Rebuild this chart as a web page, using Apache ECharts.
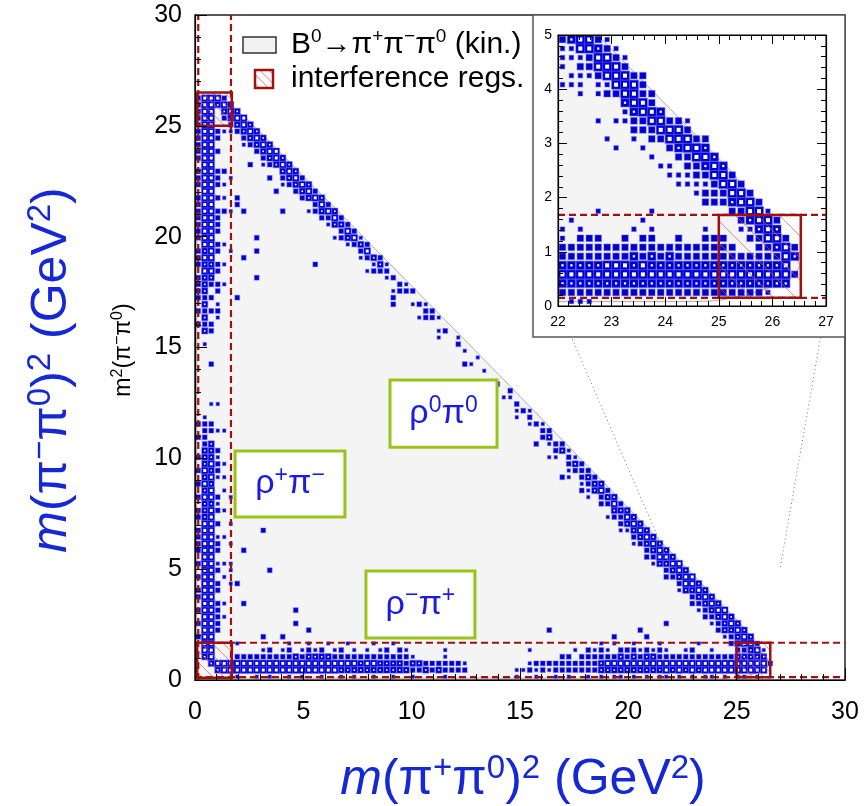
<!DOCTYPE html>
<html><head><meta charset="utf-8">
<script src="https://cdn.jsdelivr.net/npm/echarts@6/dist/echarts.min.js"></script>
<style>html,body{margin:0;padding:0;background:#fff}#c{width:868px;height:806px}</style>
</head><body><div id="c"></div><script>
// ---------------- DATA ----------------
const BIN = 0.3;            // main histogram bin width (GeV^2)
const INSET_BIN = 1 / 6;    // inset histogram bin width
// box-size levels: 0 empty, 1 tiny, 2 small, 3 medium, 4 large
// horizontal (rho- pi+) band: rows = y bins 0..5, chars = x bins 0..89
const hBandRows = [
  "0000001001"+"0100101001"+"0010100100"+"1001000010"+"0000000001"+"0010010100"+"1010110101"+"0110101011"+"0101101000",
  "0003444444"+"4444444444"+"4433333333"+"3332232322"+"2200000001"+"1212122222"+"2233333333"+"3343434344"+"4444444400",
  "0004444444"+"4444444444"+"4444434433"+"3323322222"+"2100000000"+"0122222222"+"2234444444"+"4444444444"+"4444444420",
  "0000002222"+"2222232333"+"3222222222"+"2221000010"+"0000000000"+"0000002202"+"2222232323"+"3222222222"+"2223332000",
  "0000000000"+"1201201212"+"0120101012"+"0210000010"+"0000000000"+"0100000010"+"2121022212"+"1210012001"+"0002000000",
  "0000001000"+"0000100100"+"1001000100"+"1000000000"+"0000000000"+"0000000000"+"0010100100"+"0100000100"+"0000000000"
];
// vertical (rho+ pi-) band: columns = x bins 0..5, chars = y bins 0..89
const vBandCols = [
  "0000002020"+"2022020202"+"2220220202"+"0202002020"+"0000000000"+"0002020222"+"2022202222"+"2220222022"+"2222222200",
  "0003444444"+"4444444444"+"4444333434"+"3433322221"+"0000000000"+"1032323233"+"3434344444"+"4444444444"+"4444444400",
  "0034444444"+"4444444444"+"4444443443"+"4343330220"+"0100000200"+"0022020202"+"3434444444"+"4444444444"+"4444444400",
  "0000000222"+"2202202102"+"2102021200"+"1221200100"+"0100000000"+"0000121022"+"0220220222"+"2020222002"+"0220002300",
  "0000000001"+"0100010100"+"0100010010"+"1010000100"+"0000000000"+"0000000001"+"0010010000"+"2010102000"+"0010000000",
  "0000000000"+"0000101100"+"1001000100"+"0000000000"+"0000000000"+"0000000000"+"0000100000"+"1000010000"+"0000000000"
];
// diagonal (rho0 pi0) band: one string per (x bin + y bin) sum, chars = x bins 0..89
const diagSums = [91, 90, 89, 88, 87];
const diagBands = [
  "0000233433"+"3343332323"+"2322212021"+"0012012100"+"1001000020"+"0101202112"+"2232323333"+"3333434333"+"3433332100",
  "0004444444"+"4444444444"+"4434434332"+"2220222020"+"2100102012"+"2222323232"+"3343434444"+"4444444444"+"4444444320",
  "0003333333"+"3333333323"+"2323222121"+"0201020100"+"0010000101"+"0102120222"+"2322323333"+"3433343333"+"3333433300",
  "0000222222"+"2202222022"+"1021010200"+"1000100100"+"0000000001"+"0000010101"+"1020221222"+"2322232222"+"2323222000",
  "0000010100"+"1001000100"+"0100001000"+"1000000000"+"0000000000"+"0010100100"+"1001010102"+"1020102121"+"2121220000"
];
// isolated cells [x bin, y bin, level]
const isolatedCells = [
  [10,6,2],[13,6,2],[15,8,2],[17,7,2],[15,10,2],[7,11,2],[10,22,2],[7,19,2],[11,16,2],[6,14,2],
  [54,7,2],[64,6,2],[68,7,2],[69,6,2],[72,8,2],[78,9,2],[80,7,1],[6,72,2],[6,71,2],[7,70,2],
  [7,63,2],[8,77,2],[9,66,2],[9,64,2],[9,60,2],[13,70,2],[12,73,2],[11,75,2],[18,62,2],[6,57,2],
  [30,57,2],[30,56,2],[41,47,2],[52,35,2],[56,30,2],[59,28,2],[55,33,1]
];
// inset histogram (x 22..27, y 0..5): rows from top (y bin 29) to bottom (y bin 0), chars = x bins 0..29
const insetRows = [
  "234421",
  "1144321",
  "11124421",
  "10224442",
  "0111244422",
  "1110114442",
  "00101224422",
  "00000003442",
  "000000013443",
  "000010112244221",
  "000000002224442",
  "00000100102244422",
  "00000010010023443",
  "000000000010022443",
  "0000000000011022343",
  "00000000000011122442",
  "000000000000011112442",
  "0000000000000001222442",
  "00000000000000002223442",
  "000010000010000000022441",
  "0100000001000000000023442",
  "1010000010100000100011343",
  "10222002022002002220022442",
  "222222222222222222220022342",
  "222222223232322222222222243",
  "33333444343333333333333334",
  "444444444444444444444444442",
  "33333333333333333333333333",
  "222222222222222222222221",
  "0111"
];
// kinematic boundary (GeV^2)
const kinX = [0.08, 24.5, 25.0, 25.5, 25.9, 26.25, 26.45, 26.52, 26.45, 25.27, 13.9, 2.45, 0.85, 0.75, 0.62, 0.48, 0.32, 0.2, 0.1, 0.08];
const kinY = [0.08, 0.08, 0.1, 0.2, 0.32, 0.48, 0.62, 0.75, 0.85, 2.45, 13.9, 25.27, 26.45, 26.52, 26.45, 26.25, 25.9, 25.5, 25.0, 24.5];
// interference regions
const dashX = [0.15, 1.66];
const dashY = [0.13, 1.68];
const interfBoxes = [[0.1, 0.1, 1.7, 1.68], [0.1, 25.0, 1.7, 26.5], [25.0, 0.12, 26.55, 1.68]];
const insetDashY = [0.15, 1.68];
const insetInterf = [[25.0, 0.15, 26.53, 1.68]];
// annotation labels [x0, y0, x1, y1, text]
const labelBoxes = [
  [9.0, 10.5, 13.94, 13.53, '{a|ρ}{s|0}{a|π}{s|0}'],
  [1.85, 7.35, 6.92, 10.33, '{a|ρ}{s|+}{a|π}{s|−}'],
  [7.89, 1.89, 12.92, 4.92, '{a|ρ}{s|−}{a|π}{s|+}']
];
const mainTicks = [0, 5, 10, 15, 20, 25, 30];
const insetXTicks = [22, 23, 24, 25, 26, 27];
const insetYTicks = [0, 1, 2, 3, 4, 5];

// ---------------- BUILD ----------------
const FF = '"Liberation Sans", Arial, Helvetica, sans-serif';
const BLUE = '#0000cc';
const TBLUE = '#1428d8';
const RED = '#a01010';

const cellMap = new Map();
function addCell(i, k, l) {
  if (!(l > 0)) return;
  const key = i + ',' + k;
  if (!cellMap.has(key) || cellMap.get(key) < l) cellMap.set(key, l);
}
hBandRows.forEach((row, j) => { for (let i = 0; i < row.length; i++) addCell(i, j, +row[i]); });
vBandCols.forEach((col, i) => { for (let k = 0; k < col.length; k++) addCell(i, k, +col[k]); });
diagBands.forEach((row, d) => { const s = diagSums[d]; for (let i = 0; i < row.length; i++) { const k = s - i; if (k >= 0) addCell(i, k, +row[i]); } });
isolatedCells.forEach(c => addCell(c[0], c[1], c[2]));
const mainData = [];
cellMap.forEach((l, key) => { const p = key.split(',').map(Number); mainData.push([(p[0] + 0.5) * BIN, (p[1] + 0.5) * BIN, l]); });

const insetData = [];
insetRows.forEach((row, idx) => {
  const r = insetRows.length - 1 - idx;
  for (let c = 0; c < row.length; c++) { const l = +row[c]; if (l > 0) insetData.push([22 + (c + 0.5) * INSET_BIN, (r + 0.5) * INSET_BIN, l]); }
});

const SIZE = [0, 0.5, 0.72, 0.92, 1.0];
const HOLE = [0, 0, 0, 0.25, 0.45];
function makeBoxRender(bw) {
  return function (params, api) {
    const c = api.coord([api.value(0), api.value(1)]);
    const s = api.size([bw, bw]);
    const l = api.value(2);
    const w = s[0] * SIZE[l], h = s[1] * SIZE[l];
    const ch = [{ type: 'rect', shape: { x: c[0] - w / 2, y: c[1] - h / 2, width: w, height: h },
      style: { fill: BLUE, stroke: 'rgba(70,70,255,0.4)', lineWidth: 1.2 } }];
    if (HOLE[l] > 0) {
      const hw = s[0] * HOLE[l], hh = s[1] * HOLE[l];
      ch.push({ type: 'rect', shape: { x: c[0] - hw / 2, y: c[1] - hh / 2, width: hw, height: hh }, style: { fill: '#fff' } });
    }
    return { type: 'group', children: ch };
  };
}
function hatchLines(x0, y0, x1, y1, sp, color, lw) {
  const w = x1 - x0, h = y1 - y0, out = [];
  for (let t = sp * 0.5; t < w + h; t += sp) {
    const a = t <= w ? [x0 + t, y1] : [x1, y1 - (t - w)];
    const b = t <= h ? [x0, y1 - t] : [x0 + (t - h), y0];
    out.push({ type: 'line', shape: { x1: a[0], y1: a[1], x2: b[0], y2: b[1] }, style: { stroke: color, lineWidth: lw } });
  }
  return out;
}
function kinRender(params, api) {
  const pts = kinX.map((x, i) => api.coord([x, kinY[i]]));
  return { type: 'polygon', shape: { points: pts }, style: { fill: '#f4f4f4', stroke: '#9a9a9a', lineWidth: 0.8 } };
}
function makeInterfRender(sp) {
  return function (params, api) {
    const a = api.coord([api.value(0), api.value(3)]);
    const b = api.coord([api.value(2), api.value(1)]);
    const ch = hatchLines(a[0], a[1], b[0], b[1], sp, '#d85a5a', 0.7);
    ch.push({ type: 'rect', shape: { x: a[0], y: a[1], width: b[0] - a[0], height: b[1] - a[1] },
      style: { fill: 'none', stroke: RED, lineWidth: 2.5 } });
    return { type: 'group', children: ch };
  };
}
function dashRender(params, api) {
  const a = api.coord([api.value(0), api.value(1)]);
  const b = api.coord([api.value(2), api.value(3)]);
  return { type: 'line', shape: { x1: a[0], y1: a[1], x2: b[0], y2: b[1] },
    style: { stroke: RED, lineWidth: 2.2, lineDash: [7, 4] } };
}
const supRich = (size, sup, color) => ({
  a: { fontSize: size, fontFamily: FF, fill: color, color: color, lineHeight: size + 6 },
  i: { fontSize: size, fontFamily: FF, fontStyle: 'italic', fill: color, color: color, lineHeight: size + 6 },
  s: { fontSize: sup, fontFamily: FF, fill: color, color: color, lineHeight: sup, verticalAlign: 'top' }
});
function labelRender(params, api) {
  const a = api.coord([api.value(0), api.value(3)]);
  const b = api.coord([api.value(2), api.value(1)]);
  const txt = labelBoxes[params.dataIndex][4];
  return { type: 'group', children: [
    { type: 'rect', shape: { x: a[0], y: a[1], width: b[0] - a[0], height: b[1] - a[1] },
      style: { fill: '#fff', stroke: '#99c31a', lineWidth: 3 } },
    { type: 'text', x: (a[0] + b[0]) / 2, y: (a[1] + b[1]) / 2,
      style: { text: txt, rich: supRich(34, 23, '#1a1ae6'), align: 'center', verticalAlign: 'middle' } }
  ] };
}

const dashData = dashX.map(x => [x, 0, x, 30]).concat(dashY.map(y => [0, y, 30, y]));
const insetDashData = insetDashY.map(y => [22, y, 27, y]);

function axisCommon(o) {
  return Object.assign({ type: 'value', splitLine: { show: false }, axisLine: { show: true, onZero: false, lineStyle: { color: '#000', width: 1.2 } } }, o);
}
const option = {
  animation: false,
  backgroundColor: '#fff',
  grid: [
    { left: 195, top: 15, width: 650, height: 665, show: true, borderColor: '#222', borderWidth: 1.5, backgroundColor: 'transparent', z: 1 },
    { left: 558, top: 35, width: 268, height: 271, show: true, borderColor: '#000', borderWidth: 1, backgroundColor: '#fff', z: 7 }
  ],
  xAxis: [
    axisCommon({ gridIndex: 0, min: mainTicks[0], max: mainTicks[mainTicks.length - 1], interval: 5, z: 5,
      axisTick: { inside: true, length: 12, lineStyle: { color: '#000' } },
      minorTick: { show: true, splitNumber: 5, length: 6, lineStyle: { color: '#000' } },
      axisLabel: { margin: 20, fontSize: 25, color: '#000', fontFamily: FF } }),
    axisCommon({ gridIndex: 1, min: insetXTicks[0], max: insetXTicks[insetXTicks.length - 1], interval: 1, z: 11,
      axisTick: { inside: true, length: 9, lineStyle: { color: '#000' } },
      minorTick: { show: true, splitNumber: 5, length: 5, lineStyle: { color: '#000' } },
      axisLabel: { margin: 9, fontSize: 14, color: '#000', fontFamily: FF } }),
    axisCommon({ gridIndex: 1, position: 'top', min: insetXTicks[0], max: insetXTicks[insetXTicks.length - 1], interval: 1, z: 11,
      axisTick: { inside: true, length: 9, lineStyle: { color: '#000' } },
      minorTick: { show: true, splitNumber: 5, length: 5, lineStyle: { color: '#000' } },
      axisLabel: { show: false } })
  ],
  yAxis: [
    axisCommon({ gridIndex: 0, min: mainTicks[0], max: mainTicks[mainTicks.length - 1], interval: 5, z: 5,
      axisTick: { inside: true, length: 12, lineStyle: { color: '#000' } },
      minorTick: { show: true, splitNumber: 5, length: 6, lineStyle: { color: '#000' } },
      axisLabel: { margin: 13, fontSize: 25, color: '#000', fontFamily: FF } }),
    axisCommon({ gridIndex: 1, min: insetYTicks[0], max: insetYTicks[insetYTicks.length - 1], interval: 1, z: 11,
      axisTick: { inside: true, length: 9, lineStyle: { color: '#000' } },
      minorTick: { show: true, splitNumber: 5, length: 5, lineStyle: { color: '#000' } },
      axisLabel: { margin: 6, fontSize: 14, color: '#000', fontFamily: FF } }),
    axisCommon({ gridIndex: 1, position: 'right', min: insetYTicks[0], max: insetYTicks[insetYTicks.length - 1], interval: 1, z: 11,
      axisTick: { inside: true, length: 9, lineStyle: { color: '#000' } },
      minorTick: { show: true, splitNumber: 5, length: 5, lineStyle: { color: '#000' } },
      axisLabel: { show: false } })
  ],
  series: [
    { type: 'custom', xAxisIndex: 0, yAxisIndex: 0, z: 2, silent: true, data: [[0, 0]], renderItem: kinRender },
    { type: 'custom', xAxisIndex: 0, yAxisIndex: 0, z: 3, silent: true, data: mainData, renderItem: makeBoxRender(BIN) },
    { type: 'custom', xAxisIndex: 0, yAxisIndex: 0, z: 4, silent: true, data: dashData, renderItem: dashRender },
    { type: 'custom', xAxisIndex: 0, yAxisIndex: 0, z: 4, silent: true, data: interfBoxes, renderItem: makeInterfRender(11) },
    { type: 'custom', xAxisIndex: 0, yAxisIndex: 0, z: 4, silent: true, data: labelBoxes.map(b => b.slice(0, 4)), renderItem: labelRender },
    { type: 'custom', xAxisIndex: 1, yAxisIndex: 1, z: 8, silent: true, clip: true, data: [[22, 0]], renderItem: kinRender },
    { type: 'custom', xAxisIndex: 1, yAxisIndex: 1, z: 9, silent: true, clip: true, data: insetData, renderItem: makeBoxRender(INSET_BIN) },
    { type: 'custom', xAxisIndex: 1, yAxisIndex: 1, z: 10, silent: true, clip: true, data: insetDashData, renderItem: dashRender },
    { type: 'custom', xAxisIndex: 1, yAxisIndex: 1, z: 10, silent: true, clip: true, data: insetInterf, renderItem: makeInterfRender(22) }
  ],
  graphic: [
    { type: 'rect', z: 6, shape: { x: 533, y: 15, width: 312, height: 322 }, style: { fill: '#fff', stroke: '#555', lineWidth: 1.5 } },
    // legend
    { type: 'rect', z: 12, shape: { x: 243, y: 37, width: 33, height: 16 }, style: { fill: '#f2f2f2', stroke: '#333', lineWidth: 1.5 } },
    { type: 'text', z: 12, x: 291, y: 45, style: { text: '{a|B}{s|0}{a|→π}{s|+}{a|π}{s|−}{a|π}{s|0}{a| (kin.)}', rich: supRich(30, 19, '#000'), verticalAlign: 'middle' } },
    { type: 'group', z: 12, children: hatchLines(255, 70, 273, 88, 9, '#d85a5a', 0.8).concat([
      { type: 'rect', shape: { x: 255, y: 70, width: 18, height: 18 }, style: { fill: 'none', stroke: RED, lineWidth: 2.5 } }]) },
    { type: 'text', z: 12, x: 291, y: 79, style: { text: 'interference regs.', font: '30px ' + FF, fill: '#000', verticalAlign: 'middle' } },
    // axis titles
    { type: 'text', z: 12, x: 523, y: 780, style: { text: '{i|m}{a|(π}{s|+}{a|π}{s|0}{a|)}{s|2}{a| (GeV}{s|2}{a|)}', rich: supRich(50, 33, TBLUE), align: 'center', verticalAlign: 'middle' } },
    { type: 'text', z: 12, x: 52, y: 370, rotation: Math.PI / 2, style: { text: '{i|m}{a|(π}{s|−}{a|π}{s|0}{a|)}{s|2}{a| (GeV}{s|2}{a|)}', rich: supRich(50, 33, TBLUE), align: 'center', verticalAlign: 'middle' } },
    { type: 'text', z: 12, x: 124, y: 350, rotation: Math.PI / 2, style: { text: '{a|m}{s|2}{a|(π}{s|−}{a|π}{s|0}{a|)}', rich: supRich(23, 16, '#000'), align: 'center', verticalAlign: 'middle' } }
  ]
};
const chart = echarts.init(document.getElementById('c'), null, { renderer: 'canvas', width: 868, height: 806 });
chart.setOption(option);
// dotted zoom lines connecting inset corners to the magnified region
const pA = chart.convertToPixel({ gridIndex: 1 }, [insetXTicks[0], insetYTicks[0]]);
const pB = chart.convertToPixel({ gridIndex: 1 }, [insetXTicks[insetXTicks.length - 1], insetYTicks[0]]);
const qA = chart.convertToPixel({ gridIndex: 0 }, [insetXTicks[0], insetYTicks[insetYTicks.length - 1]]);
const qB = chart.convertToPixel({ gridIndex: 0 }, [insetXTicks[insetXTicks.length - 1], insetYTicks[insetYTicks.length - 1]]);
const g = option.graphic.slice();
g.push({ type: 'line', z: 5, shape: { x1: pA[0], y1: pA[1], x2: qA[0], y2: qA[1] }, style: { stroke: '#777', lineWidth: 1, lineDash: [1, 3] } });
g.push({ type: 'line', z: 5, shape: { x1: pB[0], y1: pB[1], x2: qB[0], y2: qB[1] }, style: { stroke: '#777', lineWidth: 1, lineDash: [1, 3] } });
chart.setOption({ graphic: g }, { replaceMerge: ['graphic'] });
</script></body></html>
